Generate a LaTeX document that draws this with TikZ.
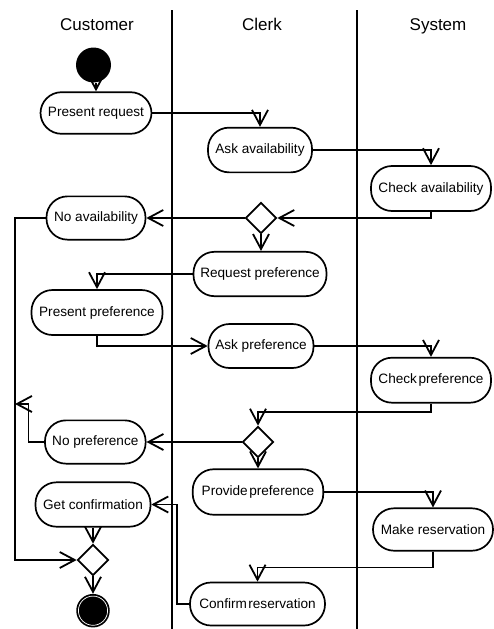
\documentclass[tikz,border=0pt]{standalone}
\usepackage{fontspec}
\setmainfont{Liberation Sans}
\usetikzlibrary{arrows.meta,shapes.geometric}
\newcommand\nodefnt{\fontsize{13.6}{16}\selectfont}
\newcommand\headfnt{\fontsize{17}{20}\selectfont}
\tikzset{
  act/.style={draw, line width=1.7pt, rounded corners=21pt, inner sep=0pt, font=\nodefnt},
  dec/.style={draw, diamond, line width=1.7pt, inner sep=0pt, minimum width=31pt, minimum height=31pt, aspect=1},
  flow/.style={line width=1.8pt, -{Straight Barb[length=15pt,width=16pt]}},
  lane/.style={line width=1.9pt},
  head/.style={font=\headfnt, anchor=base, inner sep=0pt}
}
\begin{document}
\begin{tikzpicture}[x=1pt,y=-1pt]
\useasboundingbox (0,0) rectangle (493,629);
% lanes
\coordinate (l1t) at (172,10); \coordinate (l1b) at (172,629);
\coordinate (l2t) at (357,10); \coordinate (l2b) at (357,629);
\draw[lane] (l1t) -- (l1b);
\draw[lane] (l2t) -- (l2b);
\node[head] (hc) at (97,30) {Customer};
\node[head] (hk) at (262,30) {Clerk};
\node[head] (hs) at (438,30) {System};
% start
\node[circle, fill=black, minimum size=35pt, inner sep=0pt] (start) at (93.5,65) {};
% activities
\node[act, minimum width=111pt, minimum height=41.6pt] (pr) at (96,113) {Present request};
\node[act, minimum width=104pt, minimum height=44.7pt] (aa) at (260,150) {Ask availability};
\node[act, minimum width=120pt, minimum height=45pt] (ca) at (431,188.5) {Check availability};
\node[act, minimum width=99pt, minimum height=43.3pt] (na) at (96,218) {No availability};
\node[dec] (d1) at (261,218) {};
\node[act, minimum width=133pt, minimum height=44.4pt] (rp) at (260,274) {Request preference};
\node[act, minimum width=131pt, minimum height=45pt] (pp) at (97,312.5) {Present preference};
\node[act, minimum width=105pt, minimum height=44pt] (ap) at (261,346) {Ask preference};
\node[act, minimum width=120pt, minimum height=45pt] (cp) at (431,380.2) {Check\hspace{1.5pt}preference};
\node[dec] (d2) at (258,442) {};
\node[act, minimum width=100.7pt, minimum height=43.3pt] (np) at (95.3,442) {No preference};
\node[act, minimum width=130.6pt, minimum height=45.5pt] (pv) at (258,492) {Provide\hspace{1.5pt}preference};
\node[act, minimum width=115pt, minimum height=44.4pt] (gc) at (93,504.5) {Get confirmation};
\node[act, minimum width=120pt, minimum height=42.4pt] (mr) at (433,529.5) {Make reservation};
\node[dec] (d3) at (93,560) {};
\node[act, minimum width=135pt, minimum height=43pt] (cr) at (257.5,604) {Confirm\hspace{1.5pt}reservation};
% end
\node[circle, fill=black, minimum size=33.5pt, inner sep=0pt] (end) at (93,610.7) {};
\draw[white, line width=0.7pt] (end.center) circle (14.6pt);
% helper coordinates
\coordinate (lx) at (15,300);
\coordinate (nj) at (15,404);
% connectors
\draw[flow] (pr.north |- start.south) -- (pr.north);
\draw[flow] (pr.east) -| (aa.north);
\draw[flow] (aa.east) -| (ca.north);
\draw[flow] (ca.south) |- (d1.east);
\draw[flow] (d1.west) -- (d1.west -| na.east);
\draw[flow] (d1.south) -- (d1.south |- rp.north);
\draw[flow] (rp.west) -| (pp.north);
\draw[flow] (pp.south) |- (ap.west);
\draw[flow] (ap.east) -| (cp.north);
\draw[flow] (cp.south) -- ++(0,8.3) -| (d2.north);
\draw[flow] (d2.west) -- (d2.west -| np.east);
\draw[flow] (d2.south) -- (d2.south |- pv.north);
\draw[flow] (pv.east) -| (mr.north);
\draw[flow] (mr.south) -- ++(0,16) -| (cr.north);
\draw[flow] (cr.west) -- ++(-12.5,0) |- (gc.east);
\draw[flow] (gc.south) -- (gc.south |- d3.north);
\draw[flow] (na.west) -| (lx |- d3.west) -- (d3.west);
\draw[flow] (np.west) -- ++(-15.7,0) |- (nj);
\draw[flow] (d3.south) -- (d3.south |- end.north);
\end{tikzpicture}
\end{document}
